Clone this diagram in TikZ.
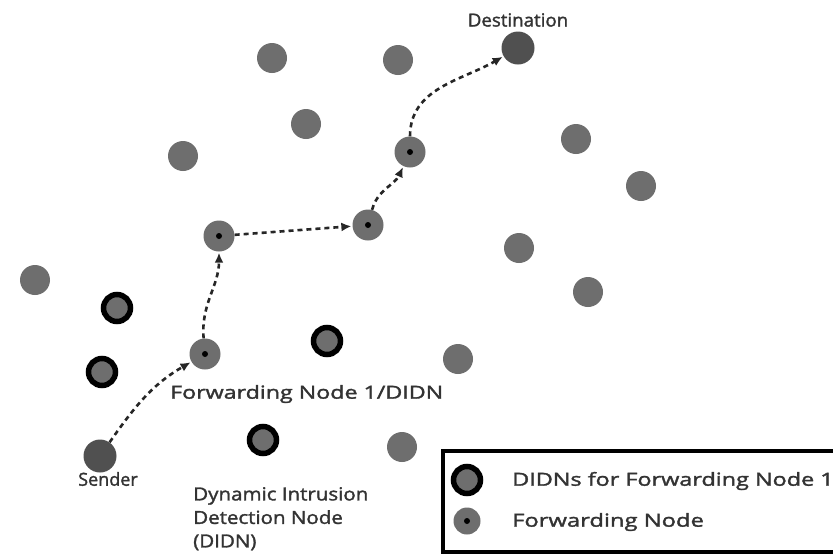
\documentclass[tikz,border=0pt]{standalone}
\usepackage{fontspec}
\setmainfont{Open Sans}[FakeBold=1.6]
\usetikzlibrary{arrows.meta}
\definecolor{nodegray}{HTML}{6E6E6E}
\definecolor{darkgray}{HTML}{505050}
\definecolor{txt}{HTML}{333333}
% horizontally stretched text
\newcommand\hs[2]{\scalebox{#1}[1]{#2}}
\tikzset{
  plain/.style={circle, fill=nodegray, minimum size=30pt, inner sep=0pt},
  endpoint/.style={circle, fill=darkgray, minimum size=33pt, inner sep=0pt},
  fwd/.style={circle, fill=nodegray, minimum size=31pt, inner sep=0pt,
    path picture={\fill[black] (path picture bounding box.center) circle (3pt);}},
  didn/.style={circle, draw=black, line width=5.5pt, fill=nodegray, minimum size=27pt, inner sep=0pt},
  flow/.style={draw=black!85, line width=2.6pt, dash pattern=on 5pt off 4pt,
    -{Latex[length=10pt,width=9pt]}, shorten >=1pt},
  lbl/.style={text=txt, font=\fontsize{18}{22}\selectfont, inner sep=0pt}
}
\begin{document}
\begin{tikzpicture}[x=1pt,y=-1pt]
\useasboundingbox (0,0) rectangle (833,555);
\fill[white] (0,0) rectangle (833,555);

% ordinary sensor nodes
\node[plain] (p1) at (272,58) {};
\node[plain] (p2) at (398,60) {};
\node[plain] (p3) at (306,124) {};
\node[plain] (p4) at (183,156) {};
\node[plain] (p5) at (576,139) {};
\node[plain] (p6) at (641,186) {};
\node[plain] (p7) at (519,248) {};
\node[plain] (p8) at (35,280) {};
\node[plain] (p9) at (588,292) {};
\node[plain] (p10) at (458,359) {};
\node[plain] (p11) at (402,447) {};

% source and sink
\node[endpoint] (dst) at (518,48) {};
\node[endpoint] (snd) at (100,456) {};

% forwarding nodes on the route
\node[fwd] (f1) at (205,354) {};
\node[fwd] (f2) at (219,236) {};
\node[fwd] (f3) at (368,225) {};
\node[fwd] (f4) at (410,152) {};

% intrusion detection nodes around forwarding node 1
\node[didn] (d1) at (117,308) {};
\node[didn] (d2) at (102,372) {};
\node[didn] (d3) at (327,341) {};
\node[didn] (d4) at (263,440) {};

% route
\draw[flow] (snd) to[out=55,in=-150] (f1);
\draw[flow] (f1) to[out=95,in=-90] (f2);
\draw[flow] (f2) -- (f3);
\draw[flow] (f3) to[out=75,in=-115] (f4);
\draw[flow] (f4) to[out=90,in=-150] (dst);

% labels
\node[lbl] (tdst) at (518,20) {\hs{1.04}{Destination}};
\node[lbl, anchor=west] (tf1) at (170,394) {\hs{1.29}{Forwarding Node 1/DIDN}};
\node[lbl] (tsnd) at (108,479) {Sender};
\node[lbl, anchor=north west, align=left, font=\fontsize{18}{23.5}\selectfont] (tdidn) at (193,487)
  {\hs{1.14}{Dynamic Intrusion}\\\hs{1.14}{Detection Node}\\\hs{1.14}{(DIDN)}};

% legend
\draw[black, line width=4pt] (443,451) rectangle (850,552);
\node[didn] (ld) at (467,480) {};
\node[fwd, minimum size=27pt] (lf) at (467,521) {};
\node[lbl, anchor=west] (tld) at (512,481) {\hs{1.3}{DIDNs for Forwarding Node 1}};
\node[lbl, anchor=west] (tlf) at (512,522) {\hs{1.32}{Forwarding Node}};
\end{tikzpicture}
\end{document}
